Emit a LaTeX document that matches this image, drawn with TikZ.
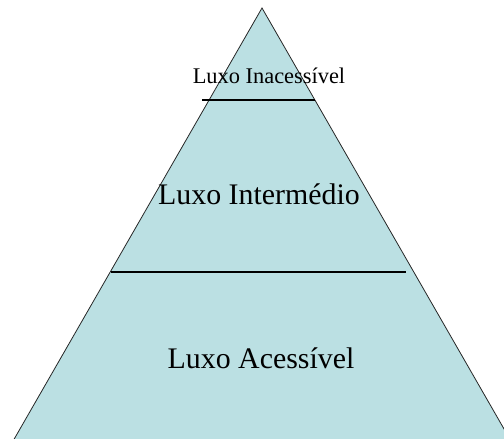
\documentclass[tikz,border=0pt]{standalone}
\usepackage{fontspec}
\setmainfont{Liberation Serif}
\usepackage{tikz}
\usetikzlibrary{positioning,calc}
\definecolor{pyrfill}{HTML}{BBE0E3}
\newcommand*{\lvl}[1]{\fontsize{22.4}{26}\selectfont #1}

\begin{document}
\begin{tikzpicture}[x=0.75pt,y=-0.75pt]
\useasboundingbox (0,0) rectangle (504,439);
\clip (0,0) rectangle (504,439);
% Corners of the pyramid (base lies below the picture)
\coordinate (apex) at (262,8);
\coordinate (bl) at (7.3,451);
\coordinate (br) at (516.7,451);
% Ends of the dividing lines
\coordinate (top1) at (202,100);
\coordinate (top2) at (315,100);
\coordinate (mid1) at (111,272);
\coordinate (mid2) at (406,272);
% Draw the pyramid
\filldraw[fill=pyrfill,draw=black!85,line width=0.6pt] (apex) -- (br) -- (bl) -- cycle;
% Draw the dividing lines
\draw[line width=1.4pt] (top1) -- (top2);
\draw[line width=1.4pt] (mid1) -- (mid2);
% Labels of the levels
\node[anchor=base,inner sep=0pt] (inacc) at (269,83.7) {\fontsize{16.8}{20}\selectfont Luxo Inacessível};
\node[anchor=base,inner sep=0pt] (inter) at (259,204) {\lvl{Luxo Intermédio}};
\node[anchor=base,inner sep=0pt] (acess) at (261,368) {\lvl{Luxo Acessível}};
\end{tikzpicture}
\end{document}
